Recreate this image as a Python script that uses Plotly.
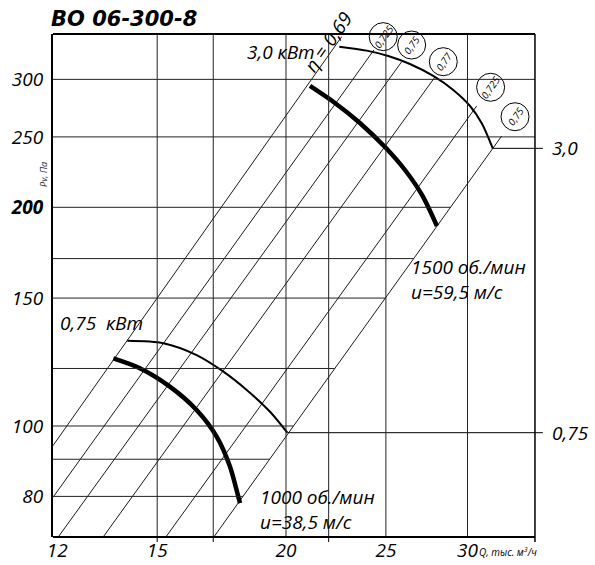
import numpy as np
import plotly.graph_objects as go

# ---------------- data ----------------
x_tick_vals = [12, 15, 20, 25, 30]
x_tick_text = ["12", "15", "20", "25", "30"]
y_tick_vals = [80, 100, 150, 200, 250, 300]
y_tick_text = ["80", "100", "150", "<b>200</b>", "250", "300"]

grid_q = [15, 17, 20, 22, 25, 30]
grid_p = [80, 90, 100, 120, 150, 170, 200, 250, 300]
small_tick_q = [15, 17, 22]

# constant-efficiency rays (start / end points)
eta_labels = ["η = 0,69", "0,725", "0,75", "0,77", "0,725", "0,75"]
ray_q_start = [11.88, 11.88, 12.03, 13.30, 15.30, 17.03]
ray_p_start = [93.9, 79.7, 70.4, 70.4, 70.4, 70.4]
ray_q_end = [22.65, 24.34, 25.90, 27.90, 30.62, 32.38]
ray_p_end = [343.5, 329.3, 317.3, 302.3, 275.7, 250.7]

# motor power limit curves (thin)
power_3_q = [22.53, 23.95, 25.13, 26.38, 27.79, 29.06, 30.17, 30.97, 31.74]
power_3_p = [332.7, 328.6, 323.1, 315.0, 303.3, 290.1, 275.7, 261.0, 241.1]
power_075_q = [14.03, 15.21, 16.38, 17.39, 18.32, 19.30, 20.06]
power_075_p = [131.0, 130.0, 125.2, 118.8, 112.1, 104.6, 97.9]

# fan characteristics (thick)
rpm1500_q = [21.10, 22.31, 23.59, 24.95, 26.09, 27.10, 28.02]
rpm1500_p = [293.8, 278.4, 261.3, 242.1, 225.1, 208.0, 188.5]
rpm1000_q = [13.60, 14.43, 15.43, 16.38, 17.13, 17.65, 17.98, 18.05]
rpm1000_p = [123.9, 120.1, 113.3, 105.2, 96.7, 87.9, 79.9, 78.3]

# power marks on the right side
power_mark_q_end = 35.5
power_marks = [("3,0", power_3_q[-1], power_3_p[-1]), ("0,75", power_075_q[-1], power_075_p[-1])]

Q_MIN, Q_MAX = 11.885, 35.91
P_MIN, P_MAX = 70.34, 346.4
Q_FRAME = 34.88

FONT = "Open Sans, Noto Sans, Liberation Sans, sans-serif"
L10 = np.log10

fig = go.Figure()


def add_line(q, p, width, color="black"):
    fig.add_trace(go.Scatter(x=q, y=p, mode="lines",
                             line=dict(color=color, width=width, shape="spline", smoothing=0.8),
                             hoverinfo="skip", showlegend=False))


# ---- grid ----
for q in grid_q:
    fig.add_shape(type="line", xref="x", yref="paper", x0=q, x1=q, y0=0, y1=1,
                  line=dict(color="#222", width=1))

ln_q6 = np.log([ray_q_start[-1], ray_q_end[-1]])
ln_p6 = np.log([ray_p_start[-1], ray_p_end[-1]])
for p in grid_p:
    if p > ray_p_end[-1] - 1:
        q_end = Q_FRAME
    else:
        q_end = float(np.exp(np.interp(np.log(p), ln_p6, ln_q6)))
    fig.add_shape(type="line", xref="x", yref="y", x0=Q_MIN, x1=q_end, y0=p, y1=p,
                  line=dict(color="#222", width=1))

# ---- rays ----
for i in range(len(ray_q_start)):
    fig.add_trace(go.Scatter(x=[ray_q_start[i], ray_q_end[i]], y=[ray_p_start[i], ray_p_end[i]],
                             mode="lines", line=dict(color="black", width=0.9),
                             hoverinfo="skip", showlegend=False))

# ---- curves ----
add_line(power_3_q, power_3_p, 2)
add_line(power_075_q, power_075_p, 2)
add_line(rpm1500_q, rpm1500_p, 4.5)
add_line(rpm1000_q, rpm1000_p, 4.5)

# power marks (horizontal lines to the right)
for lab, q, p in power_marks:
    fig.add_trace(go.Scatter(x=[q, power_mark_q_end], y=[p, p], mode="lines",
                             line=dict(color="black", width=1), hoverinfo="skip", showlegend=False))
    fig.add_annotation(xref="paper", yref="y", x=1.004, y=L10(p), text=lab, showarrow=False,
                       xanchor="left", yanchor="middle",
                       font=dict(family=FONT, size=19, style="italic", color="black"))

# ---- efficiency circles ----
circle_q = [24.85, 26.48, 28.42, 31.59, 33.36]
circle_p = [343.5, 334.5, 317.3, 292.6, 266.5]
fig.add_trace(go.Scatter(x=circle_q, y=circle_p, mode="markers",
                         marker=dict(symbol="circle-open", size=28, color="black", line=dict(width=1)),
                         cliponaxis=False, hoverinfo="skip", showlegend=False))
for q, p, lab in zip(circle_q, circle_p, eta_labels[1:]):
    fig.add_annotation(x=L10(q), y=L10(p), text=lab, showarrow=False, textangle=-55,
                       font=dict(family=FONT, size=10, style="italic", color="black"))

fig.add_annotation(x=L10(21.97), y=L10(338.0), text=eta_labels[0], showarrow=False, textangle=-55,
                   font=dict(family=FONT, size=19, style="italic", color="black"))

# ---- text labels ----
def label(q, p, text, size=19):
    fig.add_annotation(x=L10(q), y=L10(p), text=text, showarrow=False, xanchor="left",
                       yanchor="middle", align="left",
                       font=dict(family=FONT, size=size, style="italic", color="black"))

label(18.25, 327.2, "3,0 кВт")
label(12.02, 138.7, "0,75  кВт")
label(26.32, 158.9, "1500 об./мин<br>u=59,5 м/с")
label(18.79, 76.74, "1000 об./мин<br>u=38,5 м/с")

fig.add_annotation(xref="paper", yref="paper", x=-0.008, y=1.03, text="<b>ВО 06-300-8</b>",
                   showarrow=False, xanchor="left", yanchor="middle",
                   font=dict(family="DejaVu Sans, sans-serif", size=21, style="italic", color="black"))
fig.add_annotation(xref="paper", yref="paper", x=-0.036, y=0.75, text="Pv, Па", textangle=-90,
                   showarrow=False, font=dict(family=FONT, size=9, style="italic", color="#333"))
fig.add_annotation(xref="paper", yref="paper", x=0.857, y=-0.03, text="Q, тыс. м<sup>3</sup>/ч",
                   showarrow=False, xanchor="left", yanchor="middle",
                   font=dict(family=FONT, size=10, style="italic", color="black"))

# ---- frame ----
fig.add_shape(type="line", xref="x", yref="paper", x0=Q_MIN, x1=Q_FRAME, y0=0, y1=0,
              line=dict(color="black", width=2))
fig.add_shape(type="line", xref="x", yref="paper", x0=Q_MIN, x1=Q_FRAME, y0=1, y1=1,
              line=dict(color="black", width=2))
fig.add_shape(type="line", xref="x", yref="paper", x0=Q_FRAME, x1=Q_FRAME, y0=-0.01, y1=1,
              line=dict(color="black", width=1.5))
for q in small_tick_q:
    fig.add_shape(type="line", xref="x", yref="paper", x0=q, x1=q, y0=0, y1=-0.01,
                  line=dict(color="black", width=1))

fig.update_layout(
    width=595, height=565,
    margin=dict(l=53, r=47, t=34, b=28, autoexpand=False),
    paper_bgcolor="white", plot_bgcolor="white",
    xaxis=dict(type="log", range=[L10(Q_MIN), L10(Q_MAX)], showgrid=False, zeroline=False,
               automargin=False,
               showline=False, tickvals=x_tick_vals, ticktext=x_tick_text, ticks="",
               tickfont=dict(family=FONT, size=19, style="italic", color="black")),
    yaxis=dict(type="log", range=[L10(P_MIN), L10(P_MAX)], showgrid=False, zeroline=False,
               automargin=False,
               showline=True, linewidth=2, linecolor="black",
               tickvals=y_tick_vals, ticktext=y_tick_text, ticks="",
               ticklabelstandoff=4,
               tickfont=dict(family=FONT, size=19, style="italic", color="black")),
)

fig.write_html("out.html", config={"displayModeBar": False},
               post_script="document.body.style.margin='0px';")
